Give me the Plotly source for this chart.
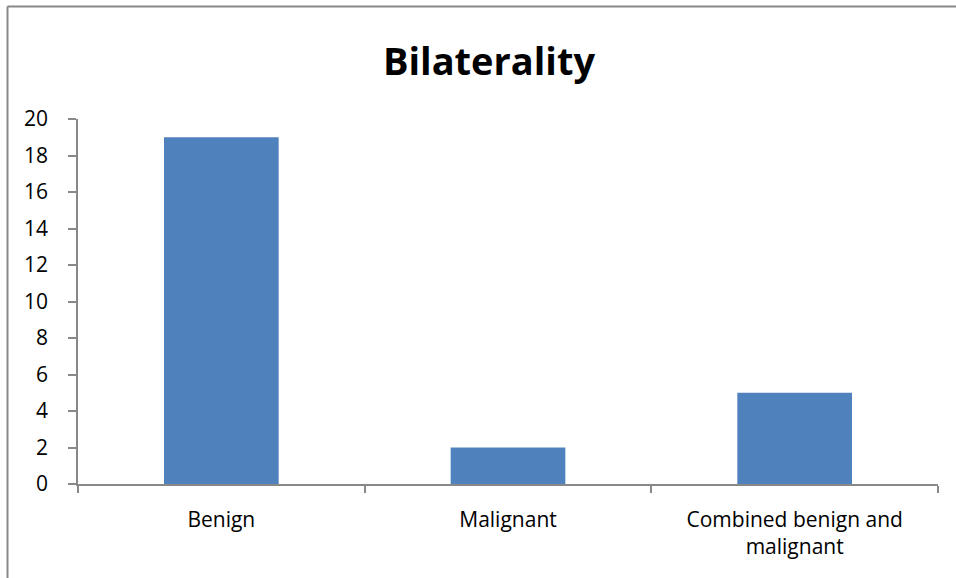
import plotly.graph_objects as go

categories = ["Benign", "Malignant", "Combined benign and<br>malignant"]
values = [19, 2, 5]
y_ticks = list(range(0, 21, 2))

fig = go.Figure(go.Bar(x=categories, y=values, marker_color="#4F81BD",
                       marker_line_width=0))

W, H = 956, 578
L, R, T, B = 78, 18, 119, 94
pw, ph = W - L - R, H - T - B

fig.update_layout(
    width=W, height=H,
    margin=dict(l=L, r=R, t=T, b=B),
    paper_bgcolor="white", plot_bgcolor="white",
    bargap=0.6,
    showlegend=False,
    font=dict(family="Open Sans, Arial, sans-serif", size=21, color="#000"),
    title=dict(text="<b>Bilaterality</b>", x=489 / W, xref="container", xanchor="center",
               y=1 - 62 / H, yref="container", yanchor="middle",
               font=dict(size=38, color="#000", family="Open Sans, Arial, sans-serif")),
)
fig.update_xaxes(showline=True, linecolor="#888", linewidth=1.5, ticks="outside",
                 tickson="boundaries", ticklen=7, tickcolor="#888", tickwidth=1.5,
                 showgrid=False, ticklabelstandoff=16, zeroline=False)
fig.update_yaxes(range=[0, 20], tickvals=y_ticks, showline=True, linecolor="#888",
                 linewidth=1.5, ticks="outside", ticklen=8, tickcolor="#888", tickwidth=1.5,
                 showgrid=False, zeroline=False, ticklabelstandoff=16)

# chart border (top and left edges visible)
bx = (7.5 - L) / pw
by = (H - B - 6.5) / ph
fig.add_shape(type="line", xref="paper", yref="paper", x0=bx, x1=(W + 10 - L) / pw,
              y0=by, y1=by, line=dict(color="#888", width=2))
fig.add_shape(type="line", xref="paper", yref="paper", x0=bx, x1=bx,
              y0=by, y1=-(B + 10) / ph, line=dict(color="#888", width=2))

fig.write_html("out.html", config={"displayModeBar": False},
               post_script="document.body.style.margin='0';")
